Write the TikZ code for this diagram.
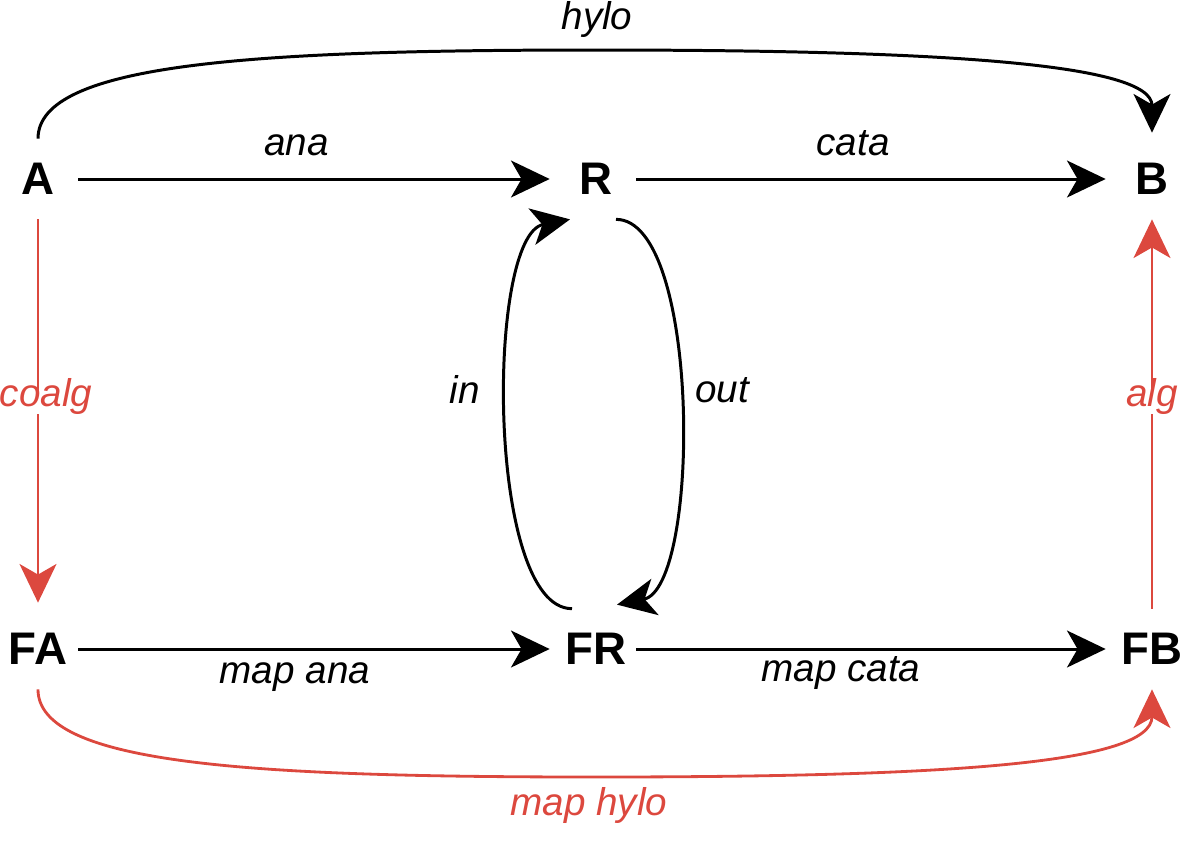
\documentclass[tikz,border=0pt]{standalone}
\usepackage{fontspec}
\setmainfont{Liberation Sans}
\usetikzlibrary{arrows.meta, calc}
\definecolor{hred}{RGB}{220,72,62}

\begin{document}
\begin{tikzpicture}[x=0.02cm, y=-0.02cm,
    obj/.style={font=\bfseries\fontsize{26}{30}\selectfont, minimum width=1.6cm, minimum height=1.6cm, inner sep=0pt},
    lbl/.style={font=\itshape\fontsize{22}{26}\selectfont, inner sep=2pt, text height=0.72em, text depth=0.21em},
    arr/.style={-{Stealth[length=22pt, width=21pt, inset=6pt]}, line width=1.7pt, shorten >=0.12cm},
    redarr/.style={arr, draw=hred, line width=1.6pt}]
  \useasboundingbox (0,0) rectangle (1200,840);
  % objects
  \node[obj] (A) at (38,179) {A};
  \node[obj] (R) at (596,179) {R};
  \node[obj] (B) at (1152,179) {B};
  \node[obj] (FA) at (38,649) {FA};
  \node[obj] (FR) at (596,649) {FR};
  \node[obj] (FB) at (1152,649) {FB};

  % top and bottom rows
  \draw[arr] (A) -- (R) node[lbl, pos=0.457, above=0.3cm] (ana) {ana};
  \draw[arr] (R) -- (B) node[lbl, pos=0.456, above=0.3cm] (cata) {cata};
  \draw[arr] (FA) -- (FR);
  \draw[arr] (FR) -- (FB);
  \node[lbl, anchor=base] (mapana) at (295,683) {map ana};
  \node[lbl, anchor=base] (mapcata) at (841,681) {map cata};

  % algebra and coalgebra
  \draw[redarr] (A) -- (FA) node[lbl, pos=0.47, fill=white, text=hred, xshift=0.16cm] (coalg) {coalg};
  \draw[redarr, shorten >=0pt] (FB) -- (B) node[lbl, pos=0.53, fill=white, text=hred] (alg) {alg};

  % in and out
  \draw[arr, shorten >=0pt] ($(FR.north)+(-24,0)$) .. controls +(-86,0) and +(-84,16) .. ($(R.south)+(-26,0)$);
  \draw[arr, shorten >=0pt] ($(R.south)+(20,0)$) .. controls +(85,0) and +(84,-17) .. ($(FR.north)+(21,-4)$);
  \node[lbl, anchor=base] (in) at (465,403) {in};
  \node[lbl, anchor=base] (out) at (722,402) {out};

  % hylo and map hylo
  \draw[arr] (A.north) .. controls +(0,-75) and (250,50) .. (596,50) .. controls (942,50) and +(0,-75) .. (B.north);
  \node[lbl, anchor=base] (hylo) at (597,29) {hylo};
  \draw[redarr, shorten >=0pt] (FA.south) .. controls +(0,75) and (250,777) .. (596,777) .. controls (942,777) and +(0,75) .. (FB.south);
  \node[lbl, anchor=base, text=hred] (maphylo) at (589,815) {map hylo};
\end{tikzpicture}
\end{document}
